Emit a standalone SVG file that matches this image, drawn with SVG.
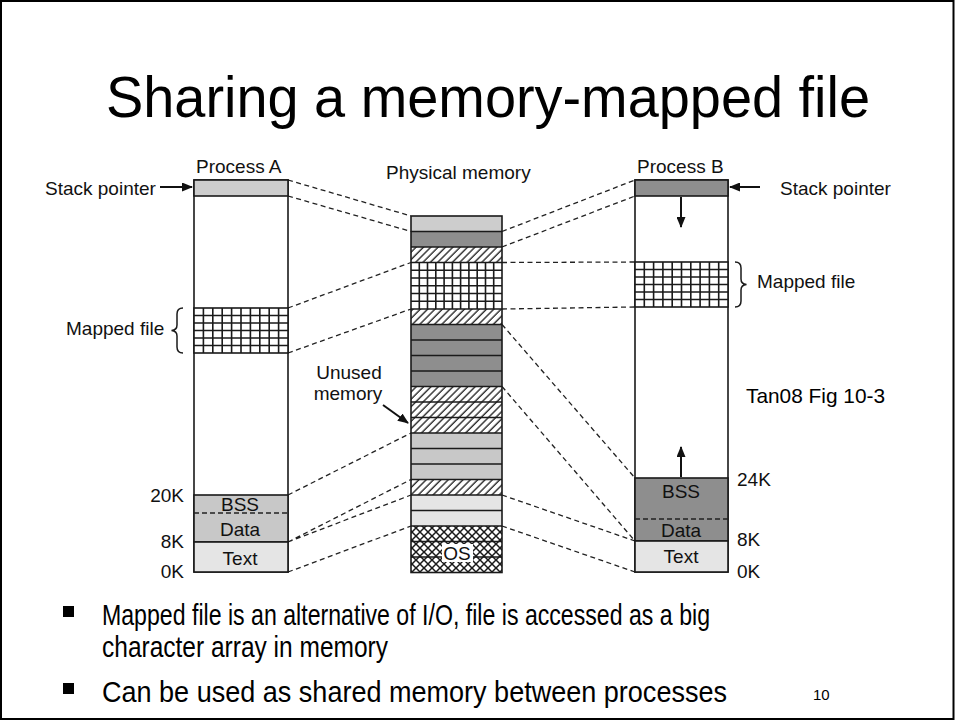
<svg xmlns="http://www.w3.org/2000/svg" width="955" height="720" viewBox="0 0 955 720">
<style>
.lbl{font-family:"Liberation Sans",Arial,sans-serif;font-size:19px;fill:#111}
.mid{text-anchor:middle}
.end{text-anchor:end}
.box{stroke:#1a1a1a;stroke-width:1.6}
.sep{stroke:#1a1a1a;stroke-width:1.5;fill:none}
.dash{stroke:#222;stroke-width:1.3;stroke-dasharray:5 3.5;fill:none}
.grid{stroke:#1a1a1a;stroke-width:1.6;fill:none}
.arr{stroke:#111;stroke-width:2;fill:none}
.body{font-family:"Liberation Sans Narrow","Liberation Sans",Arial,sans-serif;fill:#000}
</style>
<defs>
<pattern id="hatch" patternUnits="userSpaceOnUse" width="5.2" height="10" patternTransform="rotate(45)">
<rect width="5.2" height="10" fill="#fff"/>
<line x1="1" y1="0" x2="1" y2="10" stroke="#1a1a1a" stroke-width="1.3"/>
</pattern>
<pattern id="xhatch" patternUnits="userSpaceOnUse" width="8" height="8">
<rect width="8" height="8" fill="#fff"/>
<path d="M0,0 L8,8 M0,8 L8,0" stroke="#1a1a1a" stroke-width="1.5"/>
</pattern>
<marker id="ah" markerUnits="userSpaceOnUse" markerWidth="11" markerHeight="9" refX="10" refY="4.5" orient="auto">
<path d="M0,0 L11,4.5 L0,9 z" fill="#111"/>
</marker>
</defs>
<rect x="0" y="0" width="955" height="720" fill="#fff"/>
<rect x="1" y="1" width="952.5" height="718" fill="none" stroke="#000" stroke-width="2"/>

<g id="title">
<text class="body" x="106" y="117" font-size="58" textLength="764" lengthAdjust="spacingAndGlyphs">Sharing a memory-mapped file</text>
</g>

<g id="connectors">
<path class="dash" d="M288,180 L411,216 M288,196 L411,231.5 M288,308 L411,262.5 M288,353 L411,309 M288,495 L411,433 M288,542 L411,479.5 M288,542 L411,495 M288,572 L411,526"/>
<path class="dash" d="M502,231.5 L635,180 M502,247 L635,196 M502,262.5 L635,262 M502,309 L635,307 M502,324.5 L635,478 M502,386.5 L635,541 M502,495 L635,541 M502,526 L635,572"/>
<line class="arr" x1="160" y1="187" x2="192" y2="187" marker-end="url(#ah)"/>
<line class="arr" x1="760" y1="187" x2="730" y2="187" marker-end="url(#ah)"/>
<line class="arr" x1="383" y1="405" x2="408" y2="423" marker-end="url(#ah)"/>
</g>

<g id="processA">
<text class="lbl" x="196" y="173">Process A</text>
<rect class="box" x="194" y="180" width="94" height="392" fill="#fff"/>
<rect class="box" x="194" y="180" width="94" height="16" fill="#cdcdcd"/>
<rect class="box" x="194" y="308" width="94" height="45" fill="#fff"/>
<path class="grid" d="M203.4,308V353M212.8,308V353M222.2,308V353M231.6,308V353M241,308V353M250.4,308V353M259.8,308V353M269.2,308V353M278.6,308V353M194,315.5H288M194,323H288M194,330.5H288M194,338H288M194,345.5H288"/>
<rect class="box" x="194" y="495" width="94" height="47" fill="#c8c8c8"/>
<line x1="194" y1="513" x2="288" y2="513" stroke="#222" stroke-width="1.3" stroke-dasharray="5 3"/>
<rect class="box" x="194" y="542" width="94" height="30" fill="#e5e5e5"/>
<text class="lbl mid" x="240" y="511">BSS</text>
<text class="lbl mid" x="240" y="536">Data</text>
<text class="lbl mid" x="240" y="565">Text</text>
<text class="lbl" x="45" y="195">Stack pointer</text>
<text class="lbl" x="66" y="335">Mapped file</text>
<path class="sep" stroke-width="1.3" d="M183,308 Q177,308 177,314 L177,325 Q177,330 171.5,330.5 Q177,331 177,336 L177,347 Q177,353 183,353"/>
<text class="lbl end" x="184" y="502">20K</text>
<text class="lbl end" x="184" y="548">8K</text>
<text class="lbl end" x="184" y="578">0K</text>
</g>

<g id="physical">
<text class="lbl" x="386" y="179">Physical memory</text>
<rect x="411" y="216" width="91" height="15.5" fill="#cdcdcd"/>
<rect x="411" y="231.5" width="91" height="15.5" fill="#8e8e8e"/>
<rect x="411" y="247" width="91" height="15.5" fill="url(#hatch)"/>
<rect x="411" y="262.5" width="91" height="46.5" fill="#fff"/>
<path class="grid" d="M419.3,262.5V309M427.5,262.5V309M435.8,262.5V309M444.1,262.5V309M452.4,262.5V309M460.6,262.5V309M468.9,262.5V309M477.2,262.5V309M485.5,262.5V309M493.7,262.5V309M411,270.25H502M411,278H502M411,285.75H502M411,293.5H502M411,301.25H502"/>
<rect x="411" y="309" width="91" height="15.5" fill="url(#hatch)"/>
<rect x="411" y="324.5" width="91" height="62" fill="#8e8e8e"/>
<rect x="411" y="386.5" width="91" height="46.5" fill="url(#hatch)"/>
<rect x="411" y="433" width="91" height="46.5" fill="#c8c8c8"/>
<rect x="411" y="479.5" width="91" height="15.5" fill="url(#hatch)"/>
<rect x="411" y="495" width="91" height="31" fill="#e5e5e5"/>
<rect x="411" y="526" width="91" height="46.5" fill="url(#xhatch)"/>
<path class="sep" d="M411,231.5H502M411,247H502M411,262.5H502M411,309H502M411,324.5H502M411,340H502M411,355.5H502M411,371H502M411,386.5H502M411,402H502M411,417.5H502M411,433H502M411,448.5H502M411,464H502M411,479.5H502M411,495H502M411,510.5H502M411,526H502M411,541.5H502M411,557H502"/>
<rect x="442" y="544" width="31" height="18" fill="#fff"/>
<text class="lbl mid" x="457" y="560">OS</text>
<rect class="box" x="411" y="216" width="91" height="356.5" fill="none"/>
<text class="lbl mid" x="349" y="379" font-size="18">Unused</text>
<text class="lbl mid" x="348" y="400" font-size="18">memory</text>
</g>

<g id="processB">
<text class="lbl" x="637" y="173">Process B</text>
<rect class="box" x="635" y="180" width="93" height="392" fill="#fff"/>
<rect class="box" x="635" y="180" width="93" height="16" fill="#8e8e8e"/>
<rect class="box" x="635" y="262" width="93" height="45" fill="#fff"/>
<path class="grid" d="M644.3,262V307M653.6,262V307M662.9,262V307M672.2,262V307M681.5,262V307M690.8,262V307M700.1,262V307M709.4,262V307M718.7,262V307M635,269.5H728M635,277H728M635,284.5H728M635,292H728M635,299.5H728"/>
<rect class="box" x="635" y="478" width="93" height="63" fill="#8e8e8e"/>
<line x1="635" y1="519" x2="728" y2="519" stroke="#222" stroke-width="1.3" stroke-dasharray="5 3"/>
<rect class="box" x="635" y="541" width="93" height="31" fill="#e5e5e5"/>
<line class="arr" x1="681" y1="197" x2="681" y2="227" marker-end="url(#ah)"/>
<line class="arr" x1="681" y1="477" x2="681" y2="447" marker-end="url(#ah)"/>
<text class="lbl mid" x="681" y="498">BSS</text>
<text class="lbl mid" x="681" y="537">Data</text>
<text class="lbl mid" x="681" y="563">Text</text>
<text class="lbl" x="780" y="195">Stack pointer</text>
<path class="sep" stroke-width="1.3" d="M735,262 Q741,262 741,268 L741,279 Q741,284 746.5,284.5 Q741,285 741,290 L741,301 Q741,307 735,307"/>
<text class="lbl" x="757" y="288">Mapped file</text>
<text class="lbl" x="737" y="486">24K</text>
<text class="lbl" x="737" y="546">8K</text>
<text class="lbl" x="737" y="578">0K</text>
<text class="body" x="746" y="403" font-size="21" textLength="139" lengthAdjust="spacingAndGlyphs">Tan08 Fig 10-3</text>
</g>

<g id="bullets">
<rect x="63" y="606" width="11" height="11" fill="#000"/>
<text class="body" x="102" y="625" font-size="30" textLength="608" lengthAdjust="spacingAndGlyphs">Mapped file is an alternative of I/O, file is accessed as a big</text>
<text class="body" x="102" y="657" font-size="30" textLength="286" lengthAdjust="spacingAndGlyphs">character array in memory</text>
<rect x="63" y="683" width="11" height="11" fill="#000"/>
<text class="body" x="102" y="702" font-size="30" textLength="625" lengthAdjust="spacingAndGlyphs">Can be used as shared memory between processes</text>
<text x="813" y="700" font-family="Liberation Sans,Arial,sans-serif" font-size="15" fill="#000">10</text>
</g>
</svg>
